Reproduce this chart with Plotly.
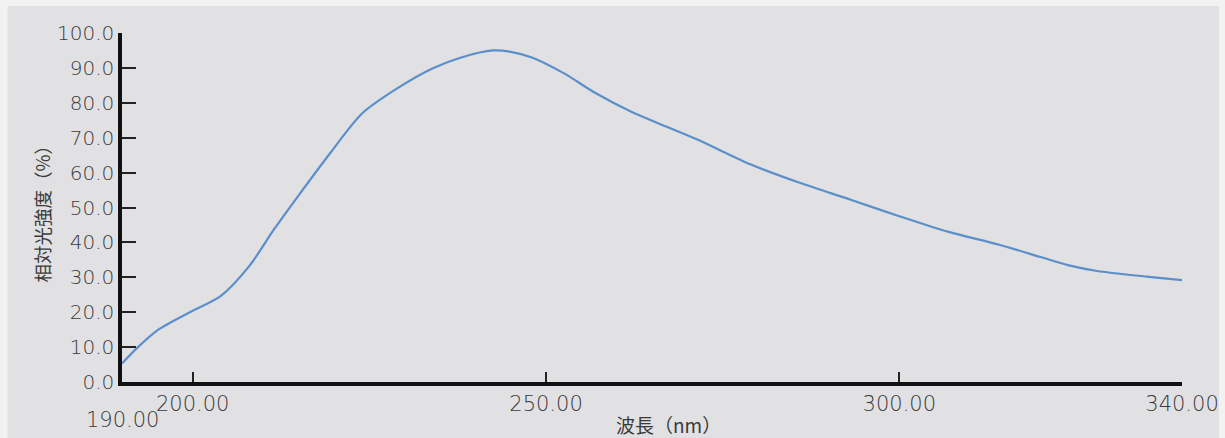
import plotly.graph_objects as go

# Data
wavelength = [190, 192, 195, 200, 204, 208, 211.5, 215, 219.5, 224, 229, 234, 238,
              242.5, 245, 248, 252.5, 257, 262, 267, 271.5, 279, 286, 293, 300,
              307, 314, 320, 324, 328, 335, 340]
intensity = [5.3, 9.5, 14.8, 20.4, 24.7, 33.2, 43.7, 53.5, 65.7, 77.0, 84.2, 89.9, 93.0,
             95.0, 94.6, 93.0, 88.5, 82.8, 77.5, 73.2, 69.4, 62.3, 57.0, 52.3, 47.5,
             43.0, 39.4, 35.8, 33.4, 31.8, 30.2, 29.2]

x_ticks = [200, 250, 300, 340]
x_low_tick = 190
y_ticks = [0, 10, 20, 30, 40, 50, 60, 70, 80, 90, 100]

x_title = "波長（nm）"
y_title = "相対光強度（%）"

W, H = 1225, 438
L, R, T, B = 121.5, 43, 33, 56
pw, ph = W - L - R, H - T - B

FONT = "DejaVu Sans, Liberation Sans, sans-serif"
CJK = "Noto Sans CJK JP, Noto Sans CJK SC, sans-serif"
TXT = "#3a3a3a"

fig = go.Figure()
fig.add_trace(go.Scatter(
    x=wavelength, y=intensity, mode="lines",
    line=dict(color="#5b8fca", width=2.2, shape="spline", smoothing=0.8),
    hoverinfo="skip", showlegend=False,
))

def px2paper_x(px):
    return (px - L) / pw

def px2paper_y(py):
    return (H - B - py) / ph

# light outer frame + gray panel
fig.add_shape(type="rect", xref="paper", yref="paper", layer="below",
              x0=px2paper_x(7), x1=px2paper_x(1219), y0=px2paper_y(445), y1=px2paper_y(6),
              fillcolor="#e1e1e3", line=dict(width=0))

fig.add_annotation(x=x_low_tick, xref="x", y=px2paper_y(420), yref="paper",
                   text=f"{x_low_tick:.2f}", showarrow=False,
                   font=dict(family=FONT, size=21, color=TXT, weight=300),
                   xanchor="center", yanchor="middle")

fig.add_annotation(x=px2paper_x(668), xref="paper", y=px2paper_y(424), yref="paper",
                   text=x_title, showarrow=False,
                   font=dict(family=CJK, size=19, color=TXT),
                   xanchor="center", yanchor="middle")

fig.add_annotation(x=px2paper_x(41), xref="paper", y=px2paper_y(209), yref="paper",
                   text=y_title, showarrow=False, textangle=-90,
                   font=dict(family=CJK, size=18.5, color=TXT),
                   xanchor="center", yanchor="middle")

fig.update_layout(
    width=W, height=H, autosize=False,
    margin=dict(l=L, r=R, t=T, b=B, pad=0, autoexpand=False),
    paper_bgcolor="#f2f2f3", plot_bgcolor="rgba(0,0,0,0)",
    xaxis=dict(range=[190, 340], tickvals=x_ticks, ticktext=[f"{v:.2f}" for v in x_ticks],
               automargin=False,
               showgrid=False, zeroline=False, showline=True, linecolor="#111", linewidth=3.5,
               ticks="inside", ticklen=10, tickwidth=1.5, tickcolor="#222",
               tickfont=dict(family=FONT, size=21, color=TXT, weight=300)),
    yaxis=dict(range=[0, 100], tickvals=y_ticks, ticktext=[f"{v:.1f}" for v in y_ticks],
               automargin=False,
               showgrid=False, zeroline=False, showline=True, linecolor="#111", linewidth=3.5,
               ticks="inside", ticklen=14, tickwidth=2, tickcolor="#222",
               tickfont=dict(family=FONT, size=20, color=TXT, weight=300)),
)

fig.write_html("out.html", config={"responsive": False, "displayModeBar": False},
               post_script="document.body.style.margin='0';document.body.style.overflow='hidden';")
